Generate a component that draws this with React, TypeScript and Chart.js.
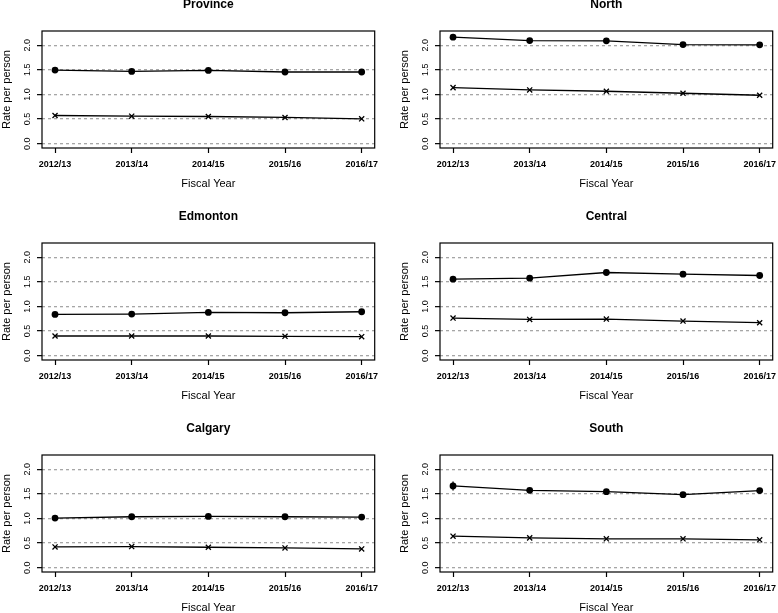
import React, { useEffect, useRef } from "react";
import { Chart, registerables } from "chart.js";

Chart.register(...registerables);

const fiscalYears = ["2012/13", "2013/14", "2014/15", "2015/16", "2016/17"];
const yTickValues = [0, 0.5, 1.0, 1.5, 2.0];

const provinceCircle = [1.495, 1.468, 1.488, 1.455, 1.455];
const provinceCross = [0.572, 0.559, 0.552, 0.532, 0.505];
const northCircle = [2.162, 2.094, 2.088, 2.013, 2.007];
const northCross = [1.138, 1.091, 1.064, 1.024, 0.983];
const edmontonCircle = [0.838, 0.845, 0.878, 0.872, 0.892];
const edmontonCross = [0.399, 0.399, 0.399, 0.392, 0.385];
const centralCircle = [1.554, 1.574, 1.689, 1.655, 1.628];
const centralCross = [0.764, 0.736, 0.743, 0.703, 0.669];
const calgaryCircle = [1.007, 1.034, 1.041, 1.034, 1.027];
const calgaryCross = [0.422, 0.429, 0.415, 0.401, 0.381];
const southCircle = [1.659, 1.571, 1.544, 1.483, 1.565];
const southCross = [0.639, 0.605, 0.585, 0.585, 0.565];
const southCircleErr = [0.09, 0.045, 0.035, 0.04, 0.035];
const noErr = [0, 0, 0, 0, 0];

const FONT = "'Liberation Sans', Arial, Helvetica, sans-serif";
const CW = 380;
const CH = 214;

type PanelProps = {
  title: string;
  circle: number[];
  cross: number[];
  err: number[];
  left: number;
  top: number;
};

function Panel({ title, circle, cross, err, left, top }: PanelProps) {
  const ref = useRef<HTMLCanvasElement>(null);
  useEffect(() => {
    if (!ref.current) return;
    const framePlugin = {
      id: "frame",
      afterDraw(chart: any) {
        const { ctx, chartArea } = chart;
        ctx.save();
        ctx.strokeStyle = "#000";
        ctx.lineWidth = 1.2;
        ctx.strokeRect(chartArea.left, chartArea.top, chartArea.right - chartArea.left, chartArea.bottom - chartArea.top);
        ctx.restore();
      },
    };
    const errPlugin = {
      id: "errbars",
      afterDatasetsDraw(chart: any) {
        const { ctx } = chart;
        const xs = chart.scales.x;
        const ys = chart.scales.y;
        ctx.save();
        ctx.strokeStyle = "#000";
        ctx.lineWidth = 1.3;
        circle.forEach((v, i) => {
          const e = err[i];
          if (!e) return;
          const px = xs.getPixelForValue(i);
          ctx.beginPath();
          ctx.moveTo(px, ys.getPixelForValue(v - e));
          ctx.lineTo(px, ys.getPixelForValue(v + e));
          ctx.stroke();
        });
        ctx.restore();
      },
    };
    const chart = new Chart(ref.current, {
      type: "line",
      data: {
        datasets: [
          {
            data: circle.map((v, i) => ({ x: i, y: v })),
            borderColor: "#000",
            borderWidth: 1.3,
            pointStyle: "circle",
            pointRadius: 3.4,
            pointBackgroundColor: "#000",
            pointBorderColor: "#000",
            pointBorderWidth: 0,
            tension: 0,
          },
          {
            data: cross.map((v, i) => ({ x: i, y: v })),
            borderColor: "#000",
            borderWidth: 1.3,
            pointStyle: "crossRot",
            pointRadius: 3.6,
            pointBorderColor: "#000",
            pointBorderWidth: 1.3,
            tension: 0,
          },
        ],
      },
      options: {
        responsive: false,
        animation: false,
        events: [],
        layout: { padding: { top: 0, left: 0, right: 3, bottom: 0 } },
        plugins: {
          legend: { display: false },
          tooltip: { enabled: false },
          title: {
            display: true,
            text: title,
            fullSize: false,
            color: "#000",
            font: { family: FONT, size: 12, weight: "bold" },
            padding: { top: 1.8, bottom: 18.8 },
          },
        },
        scales: {
          x: {
            type: "linear",
            position: "bottom",
            min: -0.17,
            max: 4.17,
            afterBuildTicks: (scale: any) => {
              scale.ticks = fiscalYears.map((_, i) => ({ value: i }));
            },
            afterFit: (scale: any) => {
              scale.height = CH - 152;
              scale.paddingLeft = 0;
              scale.paddingRight = 0;
            },
            ticks: {
              autoSkip: false,
              minRotation: 0,
              maxRotation: 0,
              padding: 6.6,
              color: "#000",
              font: { family: FONT, size: 9, weight: "bold" },
              callback: (v: any) => fiscalYears[Math.round(Number(v))] ?? "",
            },
            grid: {
              drawOnChartArea: false,
              drawTicks: true,
              tickLength: 5,
              tickColor: "#000",
              tickWidth: 1.2,
              tickBorderDash: [],
              color: "#000",
            },
            border: { display: false },
            title: {
              display: true,
              text: "Fiscal Year",
              color: "#000",
              font: { family: FONT, size: 11 },
              padding: { top: 0, bottom: 19.4 },
            },
          },
          y: {
            type: "linear",
            min: -0.088,
            max: 2.288,
            afterBuildTicks: (scale: any) => {
              scale.ticks = yTickValues.map((v) => ({ value: v }));
            },
            afterFit: (scale: any) => {
              scale.width = 42;
            },
            ticks: {
              minRotation: 90,
              maxRotation: 90,
              crossAlign: "center",
              padding: 2.75,
              color: "#000",
              font: { family: FONT, size: 9 },
              callback: (v: any) => Number(v).toFixed(1),
            },
            grid: {
              drawOnChartArea: true,
              drawTicks: true,
              tickLength: 5,
              tickColor: "#000",
              tickWidth: 1.2,
              tickBorderDash: [],
              color: "#a6a6a6",
              lineWidth: 1.3,
            },
            border: { display: false, dash: [3, 3] },
            title: {
              display: true,
              text: "Rate per person",
              color: "#000",
              font: { family: FONT, size: 11 },
              padding: { top: 0, bottom: 0 },
            },
          },
        },
      } as any,
      plugins: [framePlugin, errPlugin],
    });
    return () => chart.destroy();
  }, []);
  return (
    <canvas
      ref={ref}
      width={CW}
      height={CH}
      style={{ position: "absolute", left, top, width: CW, height: CH, display: "block" }}
    />
  );
}

export default function App() {
  const colX = [0, 398];
  const rowY = [-4, 208, 420];
  return (
    <div
      style={{
        position: "absolute",
        left: 0,
        top: 0,
        width: 778,
        height: 613,
        overflow: "hidden",
        background: "#fff",
      }}
    >
      <Panel title="Province" circle={provinceCircle} cross={provinceCross} err={noErr} left={colX[0]} top={rowY[0]} />
      <Panel title="North" circle={northCircle} cross={northCross} err={noErr} left={colX[1]} top={rowY[0]} />
      <Panel title="Edmonton" circle={edmontonCircle} cross={edmontonCross} err={noErr} left={colX[0]} top={rowY[1]} />
      <Panel title="Central" circle={centralCircle} cross={centralCross} err={noErr} left={colX[1]} top={rowY[1]} />
      <Panel title="Calgary" circle={calgaryCircle} cross={calgaryCross} err={noErr} left={colX[0]} top={rowY[2]} />
      <Panel title="South" circle={southCircle} cross={southCross} err={southCircleErr} left={colX[1]} top={rowY[2]} />
    </div>
  );
}
